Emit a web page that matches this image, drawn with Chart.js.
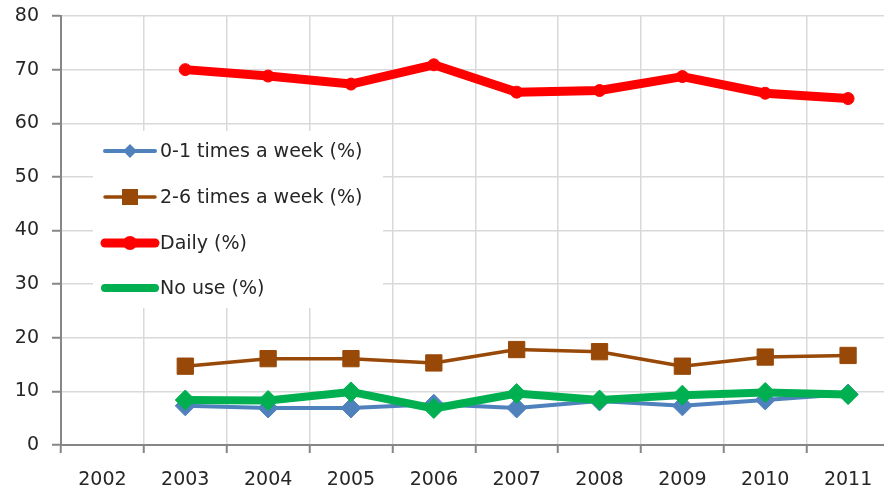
<!DOCTYPE html>
<html>
<head>
<meta charset="utf-8">
<script src="https://cdn.jsdelivr.net/npm/chart.js@4/dist/chart.umd.min.js"></script>
<style>
html,body{margin:0;padding:0;background:#fff;overflow:hidden;width:884px;height:491px;}
#wrap{width:902px;height:491px;}
canvas{display:block;}
</style>
</head>
<body>
<div id="wrap"><canvas id="c" width="902" height="491" style="width:902px;height:491px"></canvas></div>
<script>
const years = ['2002','2003','2004','2005','2006','2007','2008','2009','2010','2011'];
const yTicks = [0,10,20,30,40,50,60,70,80];
const seriesNames = ['0-1 times a week (%)','2-6 times a week (%)','Daily (%)','No use (%)'];
const zeroOne = [null, 7.3, 6.9, 6.9, 7.6, 6.9, 8.2, 7.3, 8.4, 9.5];
const twoSix  = [null, 14.7, 16.1, 16.1, 15.3, 17.8, 17.4, 14.7, 16.4, 16.7];
const daily   = [null, 70.0, 68.8, 67.3, 70.9, 65.8, 66.1, 68.7, 65.6, 64.6];
const noUse   = [null, 8.4, 8.3, 9.9, 6.8, 9.6, 8.4, 9.3, 9.8, 9.4];

const FONT = "'DejaVu Sans', Verdana, sans-serif";
const TEXT = '#262626';

const legendPlugin = {
  id: 'inLegend',
  afterDraw(chart) {
    const ctx = chart.ctx;
    ctx.save();
    ctx.fillStyle = '#ffffff';
    ctx.fillRect(93, 131, 290, 177);
    const ys = [151, 197, 243, 288];
    chart.data.datasets.forEach((ds, i) => {
      const y = ys[i];
      ctx.strokeStyle = ds.borderColor;
      ctx.lineWidth = ds.borderWidth;
      ctx.lineCap = 'round';
      ctx.beginPath();
      ctx.moveTo(105, y);
      ctx.lineTo(155, y);
      ctx.stroke();
      ctx.fillStyle = ds.borderColor;
      const cx = 130;
      if (ds.legendMarker === 'rectRot') {
        const s = 7;
        ctx.beginPath();
        ctx.moveTo(cx - s, y); ctx.lineTo(cx, y - s); ctx.lineTo(cx + s, y); ctx.lineTo(cx, y + s);
        ctx.closePath(); ctx.fill();
      } else if (ds.legendMarker === 'rect') {
        ctx.fillRect(cx - 8, y - 8, 16, 16);
      } else if (ds.legendMarker === 'circle') {
        ctx.beginPath(); ctx.arc(cx, y, 7, 0, Math.PI * 2); ctx.fill();
      }
      ctx.fillStyle = TEXT;
      ctx.font = '19px ' + FONT;
      ctx.textBaseline = 'middle';
      ctx.textAlign = 'left';
      ctx.fillText(ds.label, 160, y + 1);
    });
    ctx.restore();
  }
};

new Chart(document.getElementById('c'), {
  type: 'line',
  data: {
    labels: years,
    datasets: [
      { label: seriesNames[0], data: zeroOne, borderColor: '#4f81bd', backgroundColor: '#4f81bd',
        borderWidth: 4, pointStyle: 'rectRot', pointRadius: 10, pointBorderWidth: 1,
        pointBackgroundColor: '#4f81bd', pointBorderColor: '#4f81bd', order: 4, legendMarker: 'rectRot' },
      { label: seriesNames[1], data: twoSix, borderColor: '#984807', backgroundColor: '#984807',
        borderWidth: 3.5, pointStyle: 'rect', pointRadius: 11.5, pointBorderWidth: 1,
        pointBackgroundColor: '#984807', pointBorderColor: '#984807', order: 3, legendMarker: 'rect' },
      { label: seriesNames[2], data: daily, borderColor: '#ff0000', backgroundColor: '#ff0000',
        borderWidth: 9, pointStyle: 'circle', pointRadius: 6, pointBorderWidth: 1,
        pointBackgroundColor: '#ff0000', pointBorderColor: '#ff0000', order: 2, legendMarker: 'circle' },
      { label: seriesNames[3], data: noUse, borderColor: '#00b050', backgroundColor: '#00b050',
        borderWidth: 8, pointStyle: 'rectRot', pointRadius: 10, pointBorderWidth: 1,
        pointBackgroundColor: '#00b050', pointBorderColor: '#00b050', order: 1, legendMarker: 'none' }
    ]
  },
  options: {
    responsive: false,
    animation: false,
    devicePixelRatio: 1,
    spanGaps: false,
    layout: { padding: { top: 16, right: 0, left: 0, bottom: 0 } },
    datasets: { line: { borderJoinStyle: 'round', borderCapStyle: 'round', tension: 0 } },
    plugins: { legend: { display: false }, tooltip: { enabled: false } },
    scales: {
      x: {
        type: 'category',
        offset: true,
        grid: { offset: true, color: '#d9d9d9', lineWidth: 1.5, tickLength: 8, tickColor: '#868686', tickWidth: 2 },
        border: { color: '#868686', width: 2 },
        ticks: { color: TEXT, font: { family: FONT, size: 19 }, padding: 16, maxRotation: 0, autoSkip: false },
        afterFit(s) { s.height = 46; s.paddingLeft = 0; s.paddingRight = 0; }
      },
      y: {
        min: 0, max: 80,
        afterBuildTicks(s) { s.ticks = yTicks.map(v => ({ value: v })); },
        grid: { color: '#d9d9d9', lineWidth: 1.5, tickLength: 9, tickColor: '#868686', tickWidth: 2 },
        border: { color: '#868686', width: 2 },
        ticks: { color: TEXT, font: { family: FONT, size: 19 }, padding: 13 },
        afterFit(s) { s.width = 61; s.paddingTop = 0; s.paddingBottom = 0; }
      }
    }
  },
  plugins: [legendPlugin]
});
</script>
</body>
</html>
